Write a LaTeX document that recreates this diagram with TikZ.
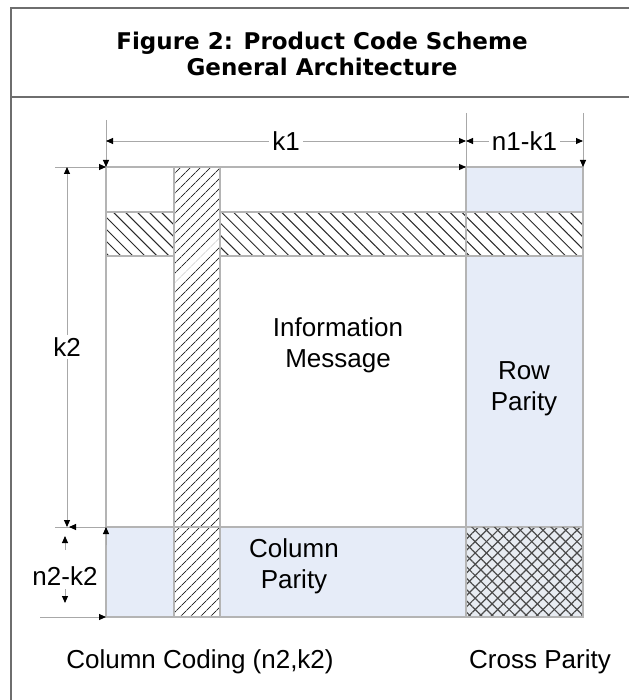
\documentclass[tikz,border=0pt]{standalone}
\usepackage{fontspec}
\setmainfont{Liberation Sans}
\newfontfamily\titlefont{DejaVu Sans}
\usetikzlibrary{arrows.meta, positioning, patterns.meta, calc}
\definecolor{pcBlue}{HTML}{E6ECF8}
\definecolor{pcCross}{HTML}{E8ECF2}
\definecolor{pcEdge}{HTML}{B4B4B4}
\definecolor{pcDim}{HTML}{A8A8A8}
\definecolor{pcFrame}{HTML}{6E6E6E}
\definecolor{pcHatch}{HTML}{2A2A2A}
\tikzset{
  tipB/.tip={Triangle[length=7pt, width=6pt, color=black]},
  dimLine/.style={draw=pcDim, line width=0.9pt},
  dimArrow/.style={dimLine, -tipB},
  dimBoth/.style={dimLine, tipB-tipB},
  gridEdge/.style={draw=pcEdge, line width=1.2pt},
  frameLine/.style={draw=pcFrame, line width=1.8pt},
  hatchRow/.style={gridEdge, preaction={fill=white},
    pattern={Lines[angle=-45, distance=8.5pt, line width=1pt]}, pattern color=pcHatch},
  hatchCol/.style={gridEdge, preaction={fill=white},
    pattern={Lines[angle=45, distance=7.4pt, line width=1pt]}, pattern color=pcHatch},
  hatchCross/.style={gridEdge, preaction={fill=pcCross},
    pattern={Lines[angle=45, distance=8pt, line width=1.2pt]}, pattern color=pcHatch!85,
    postaction={pattern={Lines[angle=-45, distance=8pt, line width=1.2pt]}, pattern color=pcHatch!85}},
  lbl/.style={font=\fontsize{26}{31}\selectfont, align=center, inner sep=1pt},
  dimLbl/.style={lbl, fill=white, inner sep=3pt},
}
\begin{document}
\begin{tikzpicture}[x=1pt, y=-1pt]
    \useasboundingbox (0,0) rectangle (629,700);
    % cadre du titre
    \coordinate (frTL) at (11,8);
    \coordinate (frTR) at (629,8);
    \coordinate (frBL) at (11,700);
    \coordinate (sepL) at (11,97);
    \coordinate (sepR) at (629,97);
    \draw[frameLine] (frTR) -- (frTL) -- (frBL);
    \draw[frameLine] (sepL) -- (sepR);
    \node[font=\titlefont\bfseries\fontsize{23}{26}\selectfont, align=center]
      (title) at (322,54) {Figure 2: Product Code Scheme\\General Architecture};
    % coins de la grille
    \coordinate (gNW) at (106,167);
    \coordinate (gNE) at (583,167);
    \coordinate (gSW) at (106,617);
    \coordinate (gSE) at (583,617);
    \coordinate (kN) at (466,167);
    \coordinate (kS) at (466,617);
    \coordinate (kW) at (106,527);
    \coordinate (kE) at (583,527);
    \coordinate (kC) at (466,527);
    % zones de parite
    \fill[pcBlue] (kN) rectangle (kE);
    \fill[pcBlue] (kW) rectangle (kS);
    \draw[hatchCross] (kC) rectangle (gSE);
    % bandes hachurees
    \draw[hatchRow] (106,212) rectangle (583,256);
    \draw[hatchCol] (174,167) rectangle (220,617);
    % contours
    \draw[gridEdge] (gNW) rectangle (gSE);
    \draw[gridEdge] (kN) -- (kS);
    \draw[gridEdge] (kW) -- (kC);
    \draw[gridEdge, -tipB] (gNW) -- (kN);
    % cotes du haut
    \coordinate (extA) at (106,120);
    \coordinate (extB) at (466,113);
    \coordinate (extC) at (583,113);
    \draw[dimArrow] (extA) -- (gNW);
    \draw[dimLine] (extB) -- (kN);
    \draw[dimArrow] (extC) -- (gNE);
    \coordinate (k1L) at (106,141);
    \coordinate (k1R) at (466,141);
    \coordinate (n1R) at (583,141);
    \draw[dimBoth] (k1L) -- node[dimLbl] (k1) {k1} (k1R);
    \draw[dimBoth] (k1R) -- node[dimLbl] (n1k1) {n1-k1} (n1R);
    % cotes de gauche
    \coordinate (extD) at (55,167);
    \coordinate (extE) at (55,527);
    \coordinate (extF) at (40,617);
    \coordinate (k2T) at (67,167);
    \coordinate (k2B) at (67,527);
    \coordinate (k2Tip) at (69,527);
    \coordinate (kWup) at (106,545);
    \draw[dimArrow] (extD) -- (gNW);
    \draw[dimLine] (extE) -- (kW);
    \draw[dimArrow] (kW) -- (k2Tip);
    \draw[dimArrow] (kWup) -- (kW);
    \draw[dimArrow] (extF) -- (gSW);
    \draw[dimBoth] (k2T) -- node[dimLbl] (k2) {k2} (k2B);
    \node[lbl] (n2k2) at (65,576) {n2-k2};
    \coordinate (n2Up) at (65,550);
    \coordinate (n2UpTip) at (65,536);
    \coordinate (n2Dn) at (65,589);
    \coordinate (n2DnTip) at (65,603);
    \draw[dimArrow] (n2Up) -- (n2UpTip);
    \draw[dimArrow] (n2Dn) -- (n2DnTip);
    % textes
    \node[lbl] (info) at (338,345) {Information\\Message};
    \node[lbl] (rowPar) at (524,389) {Row\\Parity};
    \node[lbl] (colPar) at (294,566) {Column\\Parity};
    \node[lbl] (colCod) at (200,662) {Column Coding (n2,k2)};
    \node[lbl] (crossPar) at (540,662) {Cross Parity};
\end{tikzpicture}
\end{document}
